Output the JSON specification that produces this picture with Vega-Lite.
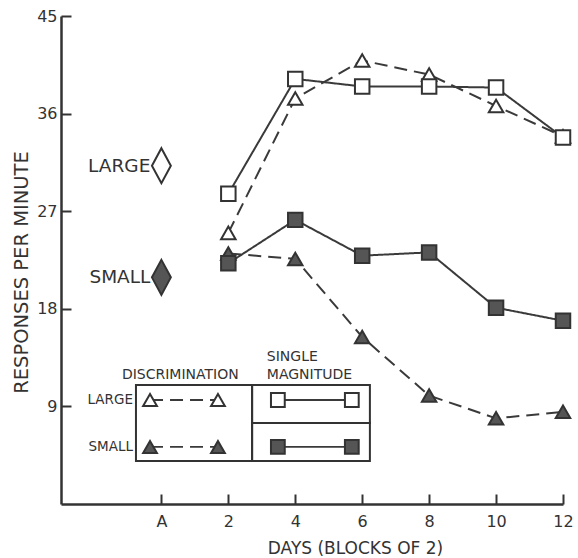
{
  "$schema": "https://vega.github.io/schema/vega-lite/v6.json",
  "width": 502,
  "height": 488,
  "autosize": "none",
  "padding": {"left": 61, "top": 16, "right": 15, "bottom": 54},
  "background": "white",
  "config": {"view": {"stroke": null}, "font": "DejaVu Sans"},
  "datasets": {
    "main": [
      {"series": "DL", "group": "Discrimination", "mag": "Large", "day": 2, "rate": 25.0},
      {"series": "DL", "group": "Discrimination", "mag": "Large", "day": 4, "rate": 37.4},
      {"series": "DL", "group": "Discrimination", "mag": "Large", "day": 6, "rate": 40.9},
      {"series": "DL", "group": "Discrimination", "mag": "Large", "day": 8, "rate": 39.6},
      {"series": "DL", "group": "Discrimination", "mag": "Large", "day": 10, "rate": 36.7},
      {"series": "DL", "group": "Discrimination", "mag": "Large", "day": 12, "rate": 33.9},
      {"series": "SL", "group": "Single", "mag": "Large", "day": 2, "rate": 28.6},
      {"series": "SL", "group": "Single", "mag": "Large", "day": 4, "rate": 39.2},
      {"series": "SL", "group": "Single", "mag": "Large", "day": 6, "rate": 38.5},
      {"series": "SL", "group": "Single", "mag": "Large", "day": 8, "rate": 38.5},
      {"series": "SL", "group": "Single", "mag": "Large", "day": 10, "rate": 38.4},
      {"series": "SL", "group": "Single", "mag": "Large", "day": 12, "rate": 33.8},
      {"series": "DS", "group": "Discrimination", "mag": "Small", "day": 2, "rate": 23.1},
      {"series": "DS", "group": "Discrimination", "mag": "Small", "day": 4, "rate": 22.6},
      {"series": "DS", "group": "Discrimination", "mag": "Small", "day": 6, "rate": 15.4},
      {"series": "DS", "group": "Discrimination", "mag": "Small", "day": 8, "rate": 10.0},
      {"series": "DS", "group": "Discrimination", "mag": "Small", "day": 10, "rate": 7.9},
      {"series": "DS", "group": "Discrimination", "mag": "Small", "day": 12, "rate": 8.5},
      {"series": "SS", "group": "Single", "mag": "Small", "day": 2, "rate": 22.2},
      {"series": "SS", "group": "Single", "mag": "Small", "day": 4, "rate": 26.2},
      {"series": "SS", "group": "Single", "mag": "Small", "day": 6, "rate": 22.9},
      {"series": "SS", "group": "Single", "mag": "Small", "day": 8, "rate": 23.2},
      {"series": "SS", "group": "Single", "mag": "Small", "day": 10, "rate": 18.1},
      {"series": "SS", "group": "Single", "mag": "Small", "day": 12, "rate": 16.9}
    ],
    "baseline": [
      {"mag": "Large", "label": "LARGE", "day": 0, "rate": 31.2},
      {"mag": "Small", "label": "SMALL", "day": 0, "rate": 20.9}
    ],
    "cells": [
      {"day": -0.76, "day2": 2.71, "rate": 3.97, "rate2": 10.97},
      {"day": 2.71, "day2": 6.23, "rate": 7.47, "rate2": 10.97},
      {"day": 2.71, "day2": 6.23, "rate": 3.97, "rate2": 7.47}
    ],
    "samples": [
      {"series": "DL", "group": "Discrimination", "mag": "Large", "day": -0.34, "rate": 9.59},
      {"series": "DL", "group": "Discrimination", "mag": "Large", "day": 1.69, "rate": 9.59},
      {"series": "DS", "group": "Discrimination", "mag": "Small", "day": -0.34, "rate": 5.26},
      {"series": "DS", "group": "Discrimination", "mag": "Small", "day": 1.69, "rate": 5.26},
      {"series": "SL", "group": "Single", "mag": "Large", "day": 3.48, "rate": 9.59},
      {"series": "SL", "group": "Single", "mag": "Large", "day": 5.69, "rate": 9.59},
      {"series": "SS", "group": "Single", "mag": "Small", "day": 3.48, "rate": 5.26},
      {"series": "SS", "group": "Single", "mag": "Small", "day": 5.69, "rate": 5.26}
    ],
    "headers": [
      {"text": "DISCRIMINATION", "day": -1.18, "rate": 11.9},
      {"text": "SINGLE", "day": 3.15, "rate": 13.56},
      {"text": "MAGNITUDE", "day": 3.15, "rate": 11.9}
    ],
    "rowlabels": [
      {"text": "LARGE", "day": -0.85, "rate": 9.59},
      {"text": "SMALL", "day": -0.85, "rate": 5.26}
    ]
  },
  "encoding": {
    "x": {
      "field": "day", "type": "quantitative",
      "scale": {"domain": [-3, 12], "nice": false, "zero": false},
      "axis": {
        "title": "DAYS (BLOCKS OF 2)",
        "values": [0, 2, 4, 6, 8, 10, 12],
        "labelExpr": "datum.value == 0 ? 'A' : datum.label",
        "grid": false,
        "domainColor": "#333", "domainWidth": 2.5,
        "tickColor": "#333", "tickWidth": 2, "tickSize": -10,
        "labelPadding": 19, "labelFontSize": 16, "labelColor": "#333",
        "labelFlush": false,
        "titleFontSize": 17, "titleFontWeight": "normal", "titleColor": "#333",
        "titleX": 294, "titleY": 44, "titleBaseline": "middle", "titleAlign": "center"
      }
    },
    "y": {
      "field": "rate", "type": "quantitative",
      "scale": {"domain": [0, 45], "nice": false},
      "axis": {
        "title": "RESPONSES PER MINUTE",
        "values": [9, 18, 27, 36, 45],
        "grid": false,
        "domainColor": "#333", "domainWidth": 2.5,
        "tickColor": "#333", "tickWidth": 2, "tickSize": -10,
        "labelPadding": 14, "labelFontSize": 16, "labelColor": "#333",
        "labelFlush": false,
        "titleFontSize": 19.5, "titleFontWeight": "normal", "titleColor": "#333",
        "titleX": -40, "titleY": 256, "titleAngle": 270,
        "titleBaseline": "middle", "titleAlign": "center"
      }
    }
  },
  "layer": [
    {
      "data": {"name": "main"},
      "mark": {"type": "line", "color": "#3a3a3a", "strokeWidth": 2},
      "encoding": {
        "detail": {"field": "series"},
        "strokeDash": {
          "field": "group", "type": "nominal",
          "scale": {"domain": ["Discrimination", "Single"], "range": [[13, 7], [1, 0]]},
          "legend": null
        }
      }
    },
    {
      "data": {"name": "main"},
      "mark": {"type": "point", "filled": true, "stroke": "#333", "strokeWidth": 2, "opacity": 1},
      "encoding": {
        "shape": {
          "field": "group", "type": "nominal",
          "scale": {"domain": ["Discrimination", "Single"], "range": ["triangle-up", "square"]},
          "legend": null
        },
        "fill": {
          "field": "mag", "type": "nominal",
          "scale": {"domain": ["Large", "Small"], "range": ["#ffffff", "#555555"]},
          "legend": null
        },
        "size": {"value": 210}
      }
    },
    {
      "data": {"name": "baseline"},
      "mark": {"type": "point", "filled": true, "stroke": "#333", "strokeWidth": 2, "opacity": 1, "shape": "M0,-1L0.54,0L0,1L-0.54,0Z", "size": 1225},
      "encoding": {
        "fill": {
          "field": "mag", "type": "nominal",
          "scale": {"domain": ["Large", "Small"], "range": ["#ffffff", "#555555"]},
          "legend": null
        }
      }
    },
    {
      "data": {"name": "baseline"},
      "mark": {"type": "text", "align": "right", "baseline": "middle", "dx": -11, "fontSize": 18.5, "color": "#333"},
      "encoding": {
        "text": {"field": "label"}
      }
    },
    {
      "data": {"name": "cells"},
      "mark": {"type": "rect", "fill": null, "fillOpacity": 0, "stroke": "#333", "strokeWidth": 2},
      "encoding": {
        "x2": {"field": "day2"},
        "y2": {"field": "rate2"}
      }
    },
    {
      "data": {"name": "samples"},
      "mark": {"type": "line", "color": "#3a3a3a", "strokeWidth": 1.8},
      "encoding": {
        "detail": {"field": "series"},
        "strokeDash": {
          "field": "group", "type": "nominal",
          "scale": {"domain": ["Discrimination", "Single"], "range": [[13, 7], [1, 0]]},
          "legend": null
        }
      }
    },
    {
      "data": {"name": "samples"},
      "mark": {"type": "point", "filled": true, "stroke": "#333", "strokeWidth": 2, "opacity": 1},
      "encoding": {
        "shape": {
          "field": "group", "type": "nominal",
          "scale": {"domain": ["Discrimination", "Single"], "range": ["triangle-up", "square"]},
          "legend": null
        },
        "fill": {
          "field": "mag", "type": "nominal",
          "scale": {"domain": ["Large", "Small"], "range": ["#ffffff", "#555555"]},
          "legend": null
        },
        "size": {"value": 190}
      }
    },
    {
      "data": {"name": "headers"},
      "mark": {"type": "text", "align": "left", "baseline": "middle", "fontSize": 14, "color": "#333"},
      "encoding": {
        "text": {"field": "text"}
      }
    },
    {
      "data": {"name": "rowlabels"},
      "mark": {"type": "text", "align": "right", "baseline": "middle", "fontSize": 13.5, "color": "#333"},
      "encoding": {
        "text": {"field": "text"}
      }
    }
  ]
}
